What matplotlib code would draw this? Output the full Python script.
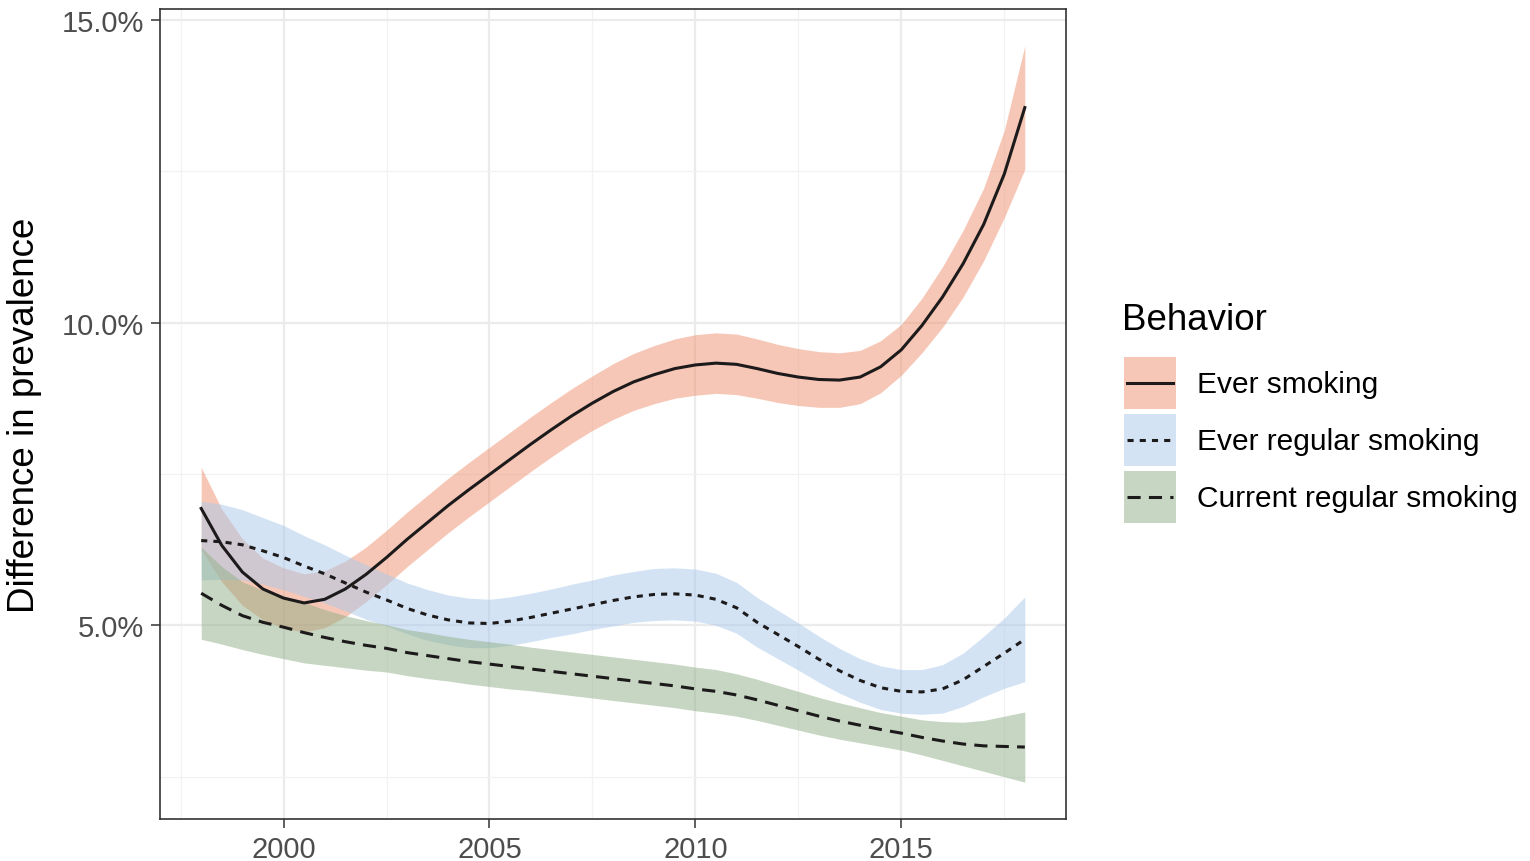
import matplotlib
matplotlib.use("Agg")
import matplotlib.pyplot as plt
from matplotlib.patches import Rectangle
from matplotlib.lines import Line2D
from matplotlib.ticker import FixedLocator, FuncFormatter
import numpy as np

plt.rcParams['font.family'] = ['Liberation Sans', 'DejaVu Sans']

# half-year grid of the smoothed fits
years = [1998.0, 1998.5, 1999.0, 1999.5, 2000.0, 2000.5, 2001.0, 2001.5, 2002.0, 2002.5,
         2003.0, 2003.5, 2004.0, 2004.5, 2005.0, 2005.5, 2006.0, 2006.5, 2007.0, 2007.5,
         2008.0, 2008.5, 2009.0, 2009.5, 2010.0, 2010.5, 2011.0, 2011.5, 2012.0, 2012.5,
         2013.0, 2013.5, 2014.0, 2014.5, 2015.0, 2015.5, 2016.0, 2016.5, 2017.0, 2017.5,
         2018.0]

# difference in prevalence (%) and half-width of the confidence band
ever_fit = [6.93, 6.32, 5.88, 5.60, 5.45, 5.37, 5.43, 5.60, 5.84, 6.12,
            6.42, 6.70, 6.98, 7.24, 7.49, 7.74, 7.99, 8.23, 8.46, 8.67,
            8.86, 9.02, 9.14, 9.24, 9.30, 9.33, 9.31, 9.24, 9.16, 9.10,
            9.06, 9.05, 9.10, 9.27, 9.55, 9.95, 10.42, 10.97, 11.62, 12.45,
            13.55]
ever_se = [0.68, 0.60, 0.55, 0.51, 0.50, 0.48, 0.47, 0.46, 0.45, 0.45,
           0.45, 0.45, 0.45, 0.45, 0.45, 0.45, 0.45, 0.45, 0.45, 0.45,
           0.46, 0.47, 0.48, 0.49, 0.50, 0.50, 0.50, 0.49, 0.48, 0.47,
           0.46, 0.45, 0.44, 0.43, 0.42, 0.45, 0.50, 0.55, 0.60, 0.72,
           1.02]

ever_reg_fit = [6.40, 6.38, 6.33, 6.23, 6.12, 5.98, 5.85, 5.70, 5.55, 5.42,
                5.28, 5.17, 5.09, 5.04, 5.03, 5.07, 5.13, 5.20, 5.27, 5.34,
                5.41, 5.47, 5.51, 5.52, 5.50, 5.43, 5.29, 5.05, 4.85, 4.65,
                4.44, 4.25, 4.09, 3.97, 3.91, 3.90, 3.95, 4.10, 4.32, 4.54,
                4.77]
ever_reg_se = [0.65, 0.62, 0.58, 0.55, 0.53, 0.50, 0.48, 0.46, 0.45, 0.43,
               0.42, 0.42, 0.41, 0.41, 0.40, 0.40, 0.40, 0.40, 0.41, 0.41,
               0.42, 0.42, 0.43, 0.43, 0.43, 0.43, 0.42, 0.41, 0.40, 0.39,
               0.38, 0.37, 0.36, 0.36, 0.36, 0.37, 0.40, 0.44, 0.50, 0.58,
               0.70]

cur_reg_fit = [5.53, 5.33, 5.16, 5.05, 4.97, 4.88, 4.80, 4.73, 4.67, 4.62,
               4.55, 4.50, 4.45, 4.40, 4.36, 4.32, 4.28, 4.24, 4.20, 4.16,
               4.12, 4.08, 4.04, 4.00, 3.95, 3.91, 3.85, 3.77, 3.68, 3.59,
               3.50, 3.42, 3.35, 3.28, 3.22, 3.15, 3.09, 3.04, 3.01, 3.00,
               2.99]
cur_reg_se = [0.76, 0.64, 0.56, 0.53, 0.52, 0.50, 0.46, 0.43, 0.41, 0.39,
              0.38, 0.38, 0.37, 0.37, 0.37, 0.37, 0.36, 0.36, 0.36, 0.36,
              0.36, 0.36, 0.36, 0.36, 0.36, 0.36, 0.35, 0.34, 0.33, 0.32,
              0.31, 0.30, 0.29, 0.28, 0.28, 0.29, 0.32, 0.36, 0.42, 0.50,
              0.58]

behaviors = ["Ever smoking", "Ever regular smoking", "Current regular smoking"]
fits = [ever_fit, ever_reg_fit, cur_reg_fit]
ses = [ever_se, ever_reg_se, cur_reg_se]
fills = ["#EF916F", "#A9C9EB", "#91AF87"]
styles = ["-", (0, (2.0, 2.0)), (0, (4.3, 2.7))]
line_col = "#1c1a1a"

W, H = 1530, 862
fig = plt.figure(figsize=(W / 100, H / 100), dpi=100)
ax = fig.add_axes([160 / W, 1 - 820 / H, 906 / W, 810 / H])

x = np.array(years)
lows, highs = [], []
for fit, se, col in zip(fits, ses, fills):
    lo = np.array(fit) - np.array(se)
    hi = np.array(fit) + np.array(se)
    lows.append(lo.min()); highs.append(hi.max())
    ax.fill_between(x, lo, hi, color=col, alpha=0.5, lw=0, zorder=2)
for fit, ls in zip(fits, styles):
    ax.plot(x, fit, color=line_col, lw=2.2, ls=ls, zorder=3)

# 5% expansion of both scales
ymin, ymax = min(lows), max(highs)
pad = (ymax - ymin) * 0.05
ax.set_ylim(ymin - pad, ymax + pad)
ax.set_xlim(years[0] - 1, years[-1] + 1)

ax.xaxis.set_major_locator(FixedLocator([2000, 2005, 2010, 2015]))
ax.xaxis.set_minor_locator(FixedLocator([1997.5, 2002.5, 2007.5, 2012.5, 2017.5]))
ax.yaxis.set_major_locator(FixedLocator([5, 10, 15]))
ax.yaxis.set_minor_locator(FixedLocator([2.5, 7.5, 12.5]))
ax.yaxis.set_major_formatter(FuncFormatter(lambda v, p: f"{v:.1f}%"))
ax.grid(which="major", color="#EBEBEB", lw=1.6, zorder=0)
ax.grid(which="minor", color="#F2F2F2", lw=0.9, zorder=0)
ax.set_axisbelow(True)

ax.tick_params(which="major", length=6.5, width=1.1, color="#333333",
               labelsize=21, labelcolor="#4D4D4D", pad=5)
ax.tick_params(which="minor", length=0)
for s in ax.spines.values():
    s.set_color("#333333")
    s.set_linewidth(1.2)

ax.set_ylabel("Difference in prevalence", fontsize=26.5, labelpad=14)

# legend drawn by hand: shaded key square with the line style over it
def fpos(px, py):
    return px / W, 1 - py / H

fig.text(*fpos(1122, 320), "Behavior", fontsize=26.5, va="center", ha="left")
key_x, key_w, key_h, key_step, key_top = 1124, 52, 52, 57, 358
for i, (lab, col, ls) in enumerate(zip(behaviors, fills, styles)):
    top = key_top + i * key_step
    x0, y0 = fpos(key_x, top + key_h)
    fig.add_artist(Rectangle((x0, y0), key_w / W, key_h / H, transform=fig.transFigure,
                             facecolor=col, alpha=0.5, lw=0))
    xa, ym = fpos(key_x + 3, top + key_h / 2)
    xb, _ = fpos(key_x + key_w - 3, top + key_h / 2)
    fig.add_artist(Line2D([xa, xb], [ym, ym], transform=fig.transFigure,
                          color=line_col, lw=2.2, ls=ls))
    fig.text(*fpos(1197, top + key_h / 2 + 1), lab, fontsize=21.5, va="center", ha="left")

fig.savefig("out.png", dpi=100)
